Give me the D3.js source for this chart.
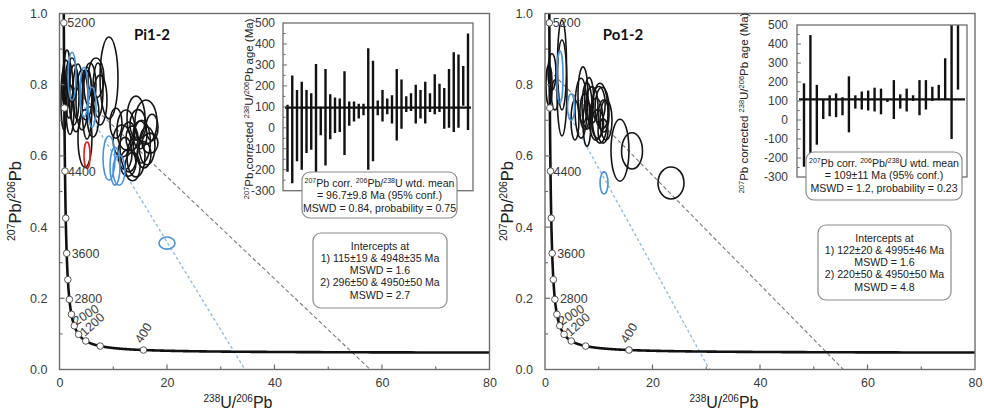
<!DOCTYPE html>
<html><head><meta charset="utf-8">
<script src="https://cdn.jsdelivr.net/npm/d3@7"></script>
<style>
body{margin:0;background:#fff}
svg{display:block;font-family:"Liberation Sans",Arial,sans-serif}
</style></head><body>
<svg id="fig" width="984" height="412"></svg>
<script>
// ---------------- data ----------------
const sampleNames = ["Pi1-2", "Po1-2"];
const xTicks = [0, 20, 40, 60, 80];
const yTicks = [0.0, 0.2, 0.4, 0.6, 0.8, 1.0];
const insetTicks = [500, 400, 300, 200, 100, 0, -100, -200, -300];
const concordiaMarkAges = [400, 800, 1200, 1600, 2000, 2400, 2800, 3200, 3600, 4000, 4400, 4800, 5200];
const concordiaLabelAges = [400, 1200, 2000, 2800, 3600, 4400, 5200];

// error ellipses: [238U/206Pb, 207Pb/206Pb, half-width (x), half-height (y), group]
// group: k = black, b = blue, r = red
const pi12Ellipses = [
  [1.21, 0.799, 0.74, 0.070, "k"], [1.77, 0.785, 0.74, 0.079, "k"], [2.33, 0.813, 0.93, 0.062, "k"],
  [2.70, 0.771, 0.93, 0.084, "k"], [3.44, 0.779, 0.93, 0.079, "k"], [4.19, 0.757, 1.12, 0.084, "k"],
  [4.93, 0.771, 1.12, 0.070, "k"], [5.67, 0.799, 1.12, 0.062, "k"], [6.79, 0.819, 1.49, 0.056, "k"],
  [7.53, 0.757, 1.30, 0.070, "k"], [4.74, 0.649, 1.30, 0.081, "k"], [7.16, 0.785, 0.93, 0.076, "k"],
  [5.12, 0.748, 0.93, 0.101, "k"], [9.21, 0.819, 1.67, 0.115, "k"], [10.51, 0.692, 1.12, 0.042, "k"],
  [0.84, 0.757, 0.56, 0.084, "k"], [1.40, 0.841, 0.56, 0.056, "k"], [1.95, 0.730, 0.74, 0.070, "k"],
  [3.07, 0.730, 0.93, 0.062, "k"], [6.23, 0.715, 1.12, 0.062, "k"],
  [14.23, 0.706, 1.67, 0.062, "k"], [16.09, 0.695, 2.05, 0.062, "k"], [11.63, 0.642, 1.67, 0.045, "k"],
  [12.93, 0.625, 1.67, 0.070, "k"], [14.23, 0.597, 1.67, 0.056, "k"], [16.28, 0.628, 1.49, 0.053, "k"],
  [12.37, 0.673, 1.67, 0.056, "k"], [16.84, 0.636, 1.49, 0.028, "k"], [12.74, 0.580, 1.49, 0.037, "k"],
  [14.98, 0.659, 1.30, 0.039, "k"], [13.49, 0.650, 1.12, 0.034, "k"], [15.72, 0.603, 1.30, 0.037, "k"],
  [14.60, 0.688, 1.49, 0.042, "k"], [12.19, 0.607, 1.30, 0.045, "k"], [17.21, 0.680, 1.12, 0.037, "k"],
  [13.60, 0.570, 1.40, 0.040, "k"], [15.30, 0.640, 1.60, 0.060, "k"],
  [9.21, 0.594, 1.12, 0.062, "b"], [10.33, 0.571, 0.93, 0.053, "b"], [11.07, 0.560, 1.12, 0.042, "b"],
  [2.33, 0.824, 0.74, 0.067, "b"], [4.56, 0.779, 0.74, 0.070, "b"], [6.05, 0.737, 0.74, 0.056, "b"],
  [20.0, 0.355, 1.49, 0.017, "b"],
  [5.12, 0.602, 0.56, 0.037, "r"]
];
const po12Ellipses = [
  [3.16, 0.855, 0.84, 0.126, "k"], [3.16, 0.791, 0.93, 0.135, "k"], [1.30, 0.836, 0.74, 0.051, "k"],
  [0.74, 0.799, 0.56, 0.056, "k"], [1.86, 0.771, 0.65, 0.042, "k"], [6.70, 0.734, 1.12, 0.084, "k"],
  [7.07, 0.771, 0.93, 0.079, "k"], [7.81, 0.740, 0.93, 0.065, "k"], [7.81, 0.692, 0.74, 0.065, "k"],
  [10.23, 0.720, 1.49, 0.084, "k"], [10.60, 0.734, 1.30, 0.059, "k"], [9.49, 0.703, 1.30, 0.059, "k"],
  [10.79, 0.670, 0.93, 0.034, "k"], [13.95, 0.616, 1.67, 0.087, "k"], [16.19, 0.614, 1.95, 0.051, "k"],
  [23.44, 0.524, 2.42, 0.045, "k"], [5.58, 0.701, 0.74, 0.056, "k"], [8.74, 0.743, 1.12, 0.051, "k"],
  [11.35, 0.701, 1.12, 0.056, "k"], [7.40, 0.725, 0.90, 0.050, "k"], [8.20, 0.760, 0.85, 0.060, "k"],
  [10.00, 0.745, 1.20, 0.050, "k"], [10.90, 0.712, 1.00, 0.045, "k"], [9.80, 0.690, 1.10, 0.040, "k"],
  [2.79, 0.822, 0.56, 0.073, "b"], [4.84, 0.737, 0.65, 0.037, "b"], [10.98, 0.524, 0.74, 0.031, "b"]
];

// discordia lines: [x0, y0, x1, y1, group]
const pi12Discordia = [[0.87, 0.815, 57.8, 0, "k"], [0.90, 0.830, 34.5, 0, "b"]];
const po12Discordia = [[0.85, 0.840, 55.5, 0, "k"], [0.87, 0.815, 30.6, 0, "b"]];

// 207Pb-corrected 206Pb/238U ages (Ma): upper and lower ends of each error bar
const pi12AgeHi = [110, 250, 180, 220, 180, 165, 305, 100, 280, 160, 145, 140, 270, 125, 125, 115, 115, 380, 320, 130,
                   180, 140, 155, 280, 230, 150, 165, 205, 180, 220, 165, 255, 210, 190, 280, 360, 350, 295, 450];
const pi12AgeLo = [-210, -265, -160, -200, -120, -105, -230, -35, -180, -55, -25, -20, -130, 10, 30, 45, 60, -200, -160, 60,
                   30, 65, 20, -60, -5, 75, 80, 20, 45, 20, 75, 65, 75, -5, 0, -20, 0, 105, -10];
const po12AgeHi = [193, 447, 185, 110, 130, 140, 120, 230, 130, 150, 155, 170, 165, 110, 210, 135, 165, 130, 210, 210,
                   175, 185, 325, 560, 560];
const po12AgeLo = [-246, -200, -130, 5, 20, 15, 25, -65, 60, 55, 50, 45, 30, 95, 5, 60, 45, 100, 25, 55,
                   100, 105, 105, -100, 160];
const pi12MeanAge = 96.7;
const po12MeanAge = 109;

const pi12StatText = ["{207}Pb corr. {206}Pb/{238}U wtd. mean", "= 96.7±9.8 Ma (95% conf.)", "MSWD = 0.84, probability = 0.75"];
const po12StatText = ["{207}Pb corr. {206}Pb/{238}U wtd. mean", "= 109±11 Ma (95% conf.)", "MSWD = 1.2, probability = 0.23"];
const pi12InterceptText = ["Intercepts at", "1) 115±19 & 4948±35 Ma", "MSWD = 1.6", "2) 296±50 & 4950±50 Ma", "MSWD = 2.7"];
const po12InterceptText = ["Intercepts at", "1) 122±20 & 4995±46 Ma", "MSWD = 1.6", "2) 220±50 & 4950±50 Ma", "MSWD = 4.8"];

// ---------------- layout ----------------
const plotTop = 13.5, plotBottom = 369.5;
const panels = [
  { name: sampleNames[0], ell: pi12Ellipses, disc: pi12Discordia, hi: pi12AgeHi, lo: pi12AgeLo, mean: pi12MeanAge,
    stat: pi12StatText, icpt: pi12InterceptText,
    x0: 59.5, x1: 489.5, yTitleX: 21, xTitleX: 238, titleX: 152,
    inset: { l: 283, r: 473, t: 23, b: 190.7, barL: 287.5, barR: 468, titleX: 253, labelX: 275 },
    statBox: { l: 302, t: 172, w: 155, h: 46 }, icptBox: { l: 313, t: 233, w: 134, h: 75 } },
  { name: sampleNames[1], ell: po12Ellipses, disc: po12Discordia, hi: po12AgeHi, lo: po12AgeLo, mean: po12MeanAge,
    stat: po12StatText, icpt: po12InterceptText,
    x0: 545, x1: 975, yTitleX: 513, xTitleX: 724, titleX: 623,
    inset: { l: 797, r: 967, t: 25, b: 177, barL: 804, barR: 958, titleX: 748, labelX: 788 },
    statBox: { l: 806, t: 152, w: 156, h: 48 }, icptBox: { l: 818, t: 225, w: 133, h: 75 } }
];

// concordia label placement (offset from marker, rotation)
const labelPlace = {
  5200: [3.5, 4.5, 0], 4400: [3, 4.5, 0], 3600: [5, 4.5, 0], 2800: [5, 4, 0],
  2000: [2, 0, -32], 1200: [-1, -4, -42], 400: [-2, -6, -58]
};

const colors = { k: "#151515", b: "#4a93da", r: "#e5221c" };
const discColors = { k: "#7a7a7a", b: "#93bde8" };
const axisGray = "#6e6e6e", textGray = "#3a3a3a";

// decay constants (per Myr) for the Tera-Wasserburg concordia
const L238 = 1.55125e-4, L235 = 9.8485e-4, U85 = 137.88;
function concordia(t) {
  const a = Math.expm1(L238 * t), b = Math.expm1(L235 * t);
  return [1 / a, b / a / U85];
}
const curveAges = d3.range(60, 5400, 2);

const svg = d3.select("#fig");

// text with {superscript} markup
function rich(sel, str, size, supSize) {
  const t = sel.append("text").attr("font-size", size);
  const parts = str.split(/(\{\d+\})/).filter(s => s.length);
  let up = false;
  parts.forEach(p => {
    const m = p.match(/^\{(\d+)\}$/);
    if (m) {
      t.append("tspan").attr("font-size", supSize).attr("dy", up ? 0 : -size * 0.38).text(m[1]);
      up = true;
    } else {
      const s = t.append("tspan").text(p);
      if (up) s.attr("dy", size * 0.38);
      up = false;
    }
  });
  return t;
}

panels.forEach((P, pi) => {
  const g = svg.append("g");
  const x = d3.scaleLinear().domain([0, 80]).range([P.x0, P.x1]);
  const y = d3.scaleLinear().domain([0, 1]).range([plotBottom, plotTop]);

  const clipId = "clip" + pi;
  svg.append("clipPath").attr("id", clipId).append("rect")
    .attr("x", P.x0).attr("y", plotTop).attr("width", P.x1 - P.x0).attr("height", plotBottom - plotTop);

  const plot = g.append("g").attr("clip-path", `url(#${clipId})`);

  // discordia lines
  plot.selectAll("line.disc").data(P.disc).join("line")
    .attr("x1", d => x(d[0])).attr("y1", d => y(d[1]))
    .attr("x2", d => x(d[2])).attr("y2", d => y(d[3]))
    .attr("stroke", d => discColors[d[4]])
    .attr("stroke-width", d => d[4] === "b" ? 1.4 : 1.1)
    .attr("stroke-dasharray", d => d[4] === "b" ? "3,2.5" : "4,2.5");

  // error ellipses
  plot.selectAll("ellipse").data(P.ell).join("ellipse")
    .attr("cx", d => x(d[0])).attr("cy", d => y(d[1]))
    .attr("rx", d => x(d[2]) - x(0)).attr("ry", d => y(0) - y(d[3]))
    .attr("fill", "none").attr("stroke", d => colors[d[4]]).attr("stroke-width", 1.6);

  // concordia curve
  const line = d3.line().x(d => x(d[0])).y(d => y(d[1]));
  plot.append("path").datum(curveAges.map(concordia))
    .attr("d", line).attr("fill", "none").attr("stroke", "#111").attr("stroke-width", 2.6);

  // age markers
  plot.selectAll("circle.age").data(concordiaMarkAges).join("circle")
    .attr("cx", d => x(concordia(d)[0])).attr("cy", d => y(concordia(d)[1]))
    .attr("r", 3.3).attr("fill", "#fff").attr("stroke", "#555").attr("stroke-width", 1);

  // age labels
  concordiaLabelAges.forEach(a => {
    const [cx, cy] = concordia(a);
    const [dx, dy, rot] = labelPlace[a];
    const px = x(cx) + dx, py = y(cy) + dy;
    g.append("text").attr("x", px).attr("y", py)
      .attr("transform", `rotate(${rot},${px},${py})`)
      .attr("font-size", 12.5).attr("fill", textGray).text(a);
  });

  // frame
  g.append("rect").attr("x", P.x0).attr("y", plotTop).attr("width", P.x1 - P.x0).attr("height", plotBottom - plotTop)
    .attr("fill", "none").attr("stroke", axisGray).attr("stroke-width", 1.4);

  // x axis
  const xa = g.append("g").attr("transform", `translate(0,${plotBottom})`)
    .call(d3.axisBottom(x).tickValues(xTicks).tickSize(0).tickPadding(9).tickFormat(d3.format("d")));
  xa.select(".domain").remove();
  xa.selectAll("text").attr("font-size", 12.5).attr("fill", textGray).attr("font-family", null);
  g.selectAll("line.xt").data(d3.range(10, 80, 10)).join("line")
    .attr("x1", d => x(d)).attr("x2", d => x(d))
    .attr("y1", plotBottom).attr("y2", d => plotBottom - (d % 20 === 0 ? 5 : 3))
    .attr("stroke", axisGray).attr("stroke-width", 1.2);

  // y axis
  const ya = g.append("g").attr("transform", `translate(${P.x0},0)`)
    .call(d3.axisLeft(y).tickValues(yTicks).tickSize(0).tickPadding(12).tickFormat(d3.format(".1f")));
  ya.select(".domain").remove();
  ya.selectAll("text").attr("font-size", 12.5).attr("fill", textGray).attr("font-family", null);
  g.selectAll("line.yt").data(d3.range(0.1, 1.0, 0.1)).join("line")
    .attr("y1", d => y(d)).attr("y2", d => y(d))
    .attr("x1", P.x0).attr("x2", (d, i) => P.x0 + (i % 2 === 1 ? 5 : 3))
    .attr("stroke", axisGray).attr("stroke-width", 1.2);

  // axis titles
  rich(g, "{238}U/{206}Pb", 16, 10).attr("x", P.xTitleX).attr("y", 408)
    .attr("text-anchor", "middle").attr("fill", "#222");
  rich(g, "{207}Pb/{206}Pb", 16.5, 10.5)
    .attr("transform", `translate(${P.yTitleX},201) rotate(-90)`)
    .attr("text-anchor", "middle").attr("fill", "#222");

  // sample name
  g.append("text").attr("x", P.titleX).attr("y", 40).attr("text-anchor", "middle")
    .attr("font-family", "Lato, 'Open Sans', sans-serif").attr("font-weight", "bold")
    .attr("font-size", 15).attr("fill", "#111").text(P.name);

  // ---------- inset: weighted mean ages ----------
  const I = P.inset;
  const iy = d3.scaleLinear().domain([-300, 500]).range([I.b, I.t]);
  const ix = d3.scalePoint().domain(d3.range(P.hi.length)).range([I.barL, I.barR]);
  const ig = g.append("g");
  ig.append("rect").attr("x", I.l).attr("y", I.t).attr("width", I.r - I.l).attr("height", I.b - I.t)
    .attr("fill", "#fff");
  const iclip = "iclip" + pi;
  svg.append("clipPath").attr("id", iclip).append("rect")
    .attr("x", I.l).attr("y", I.t).attr("width", I.r - I.l).attr("height", I.b - I.t);
  const ib = ig.append("g").attr("clip-path", `url(#${iclip})`);
  ib.append("line").attr("x1", I.l + 2).attr("x2", I.r - 2)
    .attr("y1", iy(P.mean)).attr("y2", iy(P.mean)).attr("stroke", "#111").attr("stroke-width", 2.2);
  ib.selectAll("line.bar").data(P.hi.map((h, i) => [i, P.lo[i], h])).join("line")
    .attr("x1", d => ix(d[0])).attr("x2", d => ix(d[0]))
    .attr("y1", d => iy(d[1])).attr("y2", d => iy(d[2]))
    .attr("stroke", "#111").attr("stroke-width", 2.4);
  ig.append("rect").attr("x", I.l).attr("y", I.t).attr("width", I.r - I.l).attr("height", I.b - I.t)
    .attr("fill", "none").attr("stroke", axisGray).attr("stroke-width", 1.3);
  ig.selectAll("line.it").data(d3.range(-250, 500, 50)).join("line")
    .attr("x1", I.l).attr("x2", d => I.l + (d % 100 === 0 ? 4 : 2.5))
    .attr("y1", d => iy(d)).attr("y2", d => iy(d)).attr("stroke", axisGray).attr("stroke-width", 1);
  ig.selectAll("text.il").data(insetTicks).join("text")
    .attr("x", I.labelX).attr("y", d => iy(d) + 4).attr("text-anchor", "end")
    .attr("font-size", 12).attr("fill", textGray).text(d => d);
  rich(ig, "{207}Pb corrected {238}U/{206}Pb  age (Ma)", 11.5, 7.5)
    .attr("transform", `translate(${I.titleX},${(I.t + I.b) / 2 + 2}) rotate(-90)`)
    .attr("text-anchor", "middle").attr("fill", "#222");

  // ---------- text boxes ----------
  const drawBox = (B, lines, first, step) => {
    const bg = g.append("g");
    bg.append("rect").attr("x", B.l).attr("y", B.t).attr("width", B.w).attr("height", B.h)
      .attr("rx", 8).attr("fill", "#fff").attr("stroke", "#8a8a8a").attr("stroke-width", 1.2);
    lines.forEach((s, i) => {
      rich(bg, s, 10.6, 7).attr("x", B.l + B.w / 2).attr("y", B.t + first + i * step)
        .attr("text-anchor", "middle").attr("fill", "#222");
    });
  };
  drawBox(P.statBox, P.stat, 15, 12.3);
  drawBox(P.icptBox, P.icpt, 16.5, 12.3);
});
</script>
</body></html>
